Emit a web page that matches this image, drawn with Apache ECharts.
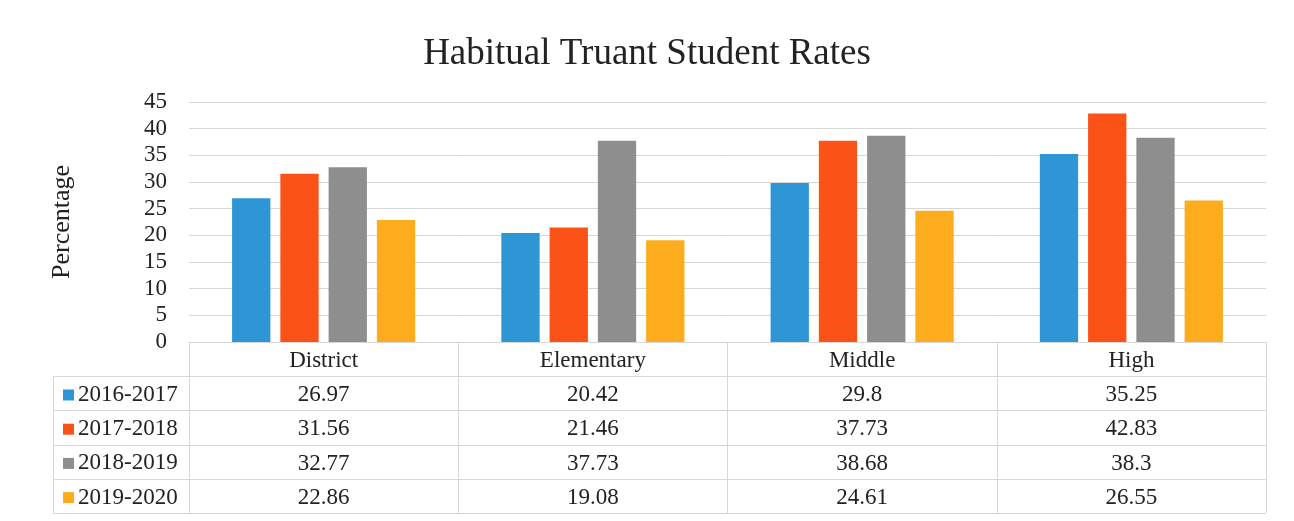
<!DOCTYPE html>
<html>
<head>
<meta charset="utf-8">
<script src="https://cdn.jsdelivr.net/npm/echarts@6/dist/echarts.min.js"></script>
<style>
  html, body { margin: 0; padding: 0; background: #fff; }
  #chart { width: 1294px; height: 521px; }
</style>
</head>
<body>
<div id="chart"></div>
<script>
// data
var categories = ['District', 'Elementary', 'Middle', 'High'];
var seriesNames = ['2016-2017', '2017-2018', '2018-2019', '2019-2020'];
var values2016 = [26.97, 20.42, 29.8, 35.25];
var values2017 = [31.56, 21.46, 37.73, 42.83];
var values2018 = [32.77, 37.73, 38.68, 38.3];
var values2019 = [22.86, 19.08, 24.61, 26.55];
var yTicks = [0, 45, 5]; // min, max, interval

var allValues = [values2016, values2017, values2018, values2019];
var colors = ['#2f96d6', '#fb5218', '#8e8e8e', '#fdac1e'];
var font = 'Liberation Serif';
var lineColor = '#d6d6d6';
var fs = 23;

// table layout
var gridLeft = 189, gridRight = 28, gridTop = 102, axisY = 342;
var rowH = 34.2;
var tableLeft = 53;

var myChart = echarts.init(document.getElementById('chart'));

// one hidden axis per table row, so the numbers go through the category axis
var xAxes = [{
    type: 'category',
    data: categories,
    axisLine: { show: true, lineStyle: { color: lineColor } },
    axisTick: { show: true, length: rowH * 5, interval: 0, lineStyle: { color: lineColor } },
    axisLabel: { fontFamily: font, fontSize: fs, color: '#222', margin: 7.5, lineHeight: fs }
}];
allValues.forEach(function (vals, i) {
    xAxes.push({
        type: 'category',
        data: categories,
        position: 'bottom',
        offset: rowH * (i + 1),
        axisLine: { show: false },
        axisTick: { show: false },
        splitLine: { show: false },
        axisLabel: {
            fontFamily: font, fontSize: fs, color: '#222', margin: 7.5, lineHeight: fs,
            formatter: function (v, idx) { return String(vals[idx]); }
        }
    });
});

var series = seriesNames.map(function (name, i) {
    return {
        name: name,
        type: 'bar',
        data: allValues[i],
        itemStyle: { color: colors[i] },
        barGap: '26%',
        barCategoryGap: '32%'
    };
});

// table border lines
var graphics = [];
var right = 1294 - gridRight;
for (var r = 1; r <= 5; r++) {
    var y = Math.round(axisY + rowH * r) + 0.5;
    graphics.push({
        type: 'line',
        shape: { x1: tableLeft, y1: y, x2: right, y2: y },
        style: { stroke: lineColor, lineWidth: 1 }
    });
}
graphics.push({
    type: 'line',
    shape: { x1: tableLeft + 0.5, y1: Math.round(axisY + rowH) + 0.5, x2: tableLeft + 0.5, y2: Math.round(axisY + rowH * 5) + 0.5 },
    style: { stroke: lineColor, lineWidth: 1 }
});

var option = {
    title: {
        text: 'Habitual Truant Student Rates',
        left: 'center',
        top: 31,
        textStyle: { fontFamily: font, fontSize: 37, fontWeight: 'normal', color: '#222' }
    },
    legend: {
        data: seriesNames,
        orient: 'vertical',
        left: 58,
        top: 378.5,
        itemWidth: 11,
        itemHeight: 11,
        itemGap: rowH - fs,
        icon: 'rect',
        selectedMode: false,
        textStyle: { fontFamily: font, fontSize: fs, color: '#222', lineHeight: fs, padding: [0, 0, 0, -1] }
    },
    grid: {
        left: gridLeft,
        right: gridRight,
        top: gridTop,
        bottom: 521 - axisY,
        containLabel: false
    },
    xAxis: xAxes,
    yAxis: {
        type: 'value',
        min: yTicks[0],
        max: yTicks[1],
        interval: yTicks[2],
        name: 'Percentage',
        nameLocation: 'middle',
        nameGap: 114,
        nameTextStyle: { fontFamily: font, fontSize: 26, color: '#222' },
        axisLine: { show: false },
        axisTick: { show: false },
        axisLabel: { fontFamily: font, fontSize: fs, color: '#222', margin: 22 },
        splitLine: { lineStyle: { color: lineColor } }
    },
    series: series,
    graphic: graphics
};
myChart.setOption(option);
</script>
</body>
</html>
